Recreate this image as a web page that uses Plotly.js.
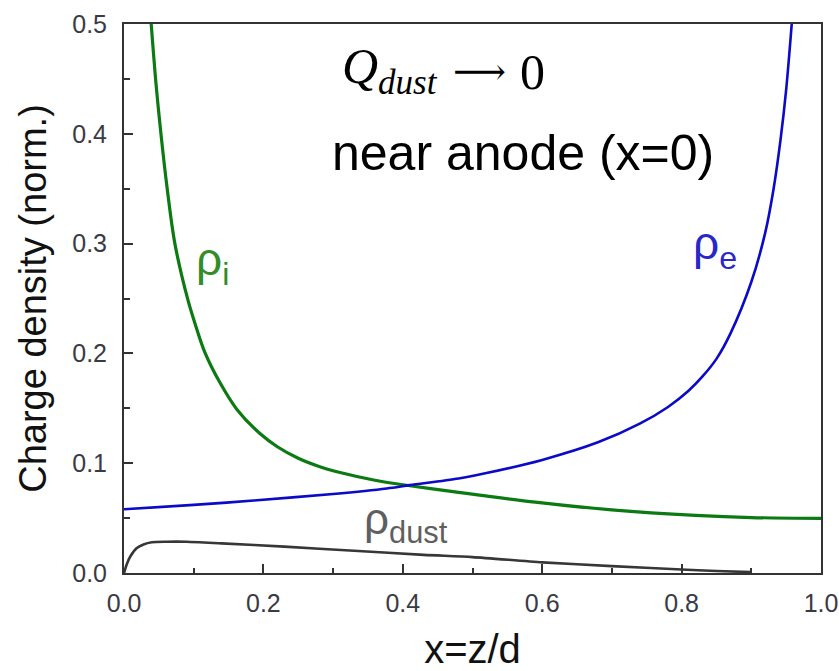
<!DOCTYPE html>
<html>
<head>
<meta charset="utf-8">
<script src="https://cdn.plot.ly/plotly-3.0.1.min.js"></script>
<style>
  html, body { margin: 0; padding: 0; background: #ffffff; }
  #chart { width: 839px; height: 671px; }
</style>
</head>
<body>
<div id="chart"></div>
<script>
// Normalised charge densities across the gap, x = z/d (anode at x = 0)
const ionX = [0.039, 0.046, 0.053, 0.062, 0.073, 0.092, 0.104, 0.116, 0.138, 0.162, 0.195, 0.22, 0.25, 0.28, 0.31, 0.36, 0.41, 0.48, 0.51, 0.59, 0.70, 0.82, 0.90, 1.0];
const ionY = [0.50, 0.445, 0.40, 0.35, 0.30, 0.248, 0.223, 0.201, 0.173, 0.149, 0.127, 0.115, 0.1045, 0.097, 0.0915, 0.0845, 0.0795, 0.0735, 0.071, 0.0645, 0.0575, 0.0525, 0.0505, 0.0498];

const elecX = [0, 0.1, 0.186, 0.3, 0.377, 0.41, 0.48, 0.52, 0.6, 0.68, 0.74, 0.78, 0.81, 0.83, 0.85, 0.87, 0.90, 0.92, 0.932, 0.942, 0.950, 0.958];
const elecY = [0.058, 0.062, 0.066, 0.072, 0.077, 0.080, 0.086, 0.091, 0.103, 0.119, 0.136, 0.151, 0.166, 0.179, 0.195, 0.218, 0.265, 0.310, 0.350, 0.395, 0.440, 0.5];

const dustX = [0, 0.004, 0.009, 0.018, 0.028, 0.04, 0.06, 0.09, 0.14, 0.23, 0.33, 0.43, 0.5, 0.6, 0.7, 0.8, 0.85, 0.9];
const dustY = [0, 0.008, 0.015, 0.0225, 0.026, 0.028, 0.0285, 0.0285, 0.027, 0.024, 0.0203, 0.0165, 0.0145, 0.0097, 0.0063, 0.0032, 0.0018, 0.0008];

const xTicks = [0.0, 0.2, 0.4, 0.6, 0.8, 1.0];
const yTicks = [0.0, 0.1, 0.2, 0.3, 0.4, 0.5];

const GREEN = 'rgb(12,122,18)';
const BLUE = 'rgb(10,10,200)';
const DARK = 'rgb(55,55,55)';

const traces = [
  { x: ionX, y: ionY, mode: 'lines', line: { color: GREEN, width: 3.2, shape: 'spline', smoothing: 0.9 }, hoverinfo: 'skip' },
  { x: elecX, y: elecY, mode: 'lines', line: { color: BLUE, width: 2.6, shape: 'spline', smoothing: 0.9 }, hoverinfo: 'skip' },
  { x: dustX, y: dustY, mode: 'lines', line: { color: DARK, width: 2.6, shape: 'spline', smoothing: 0.7 }, hoverinfo: 'skip' }
];

const SANS = '"Liberation Sans", Arial, sans-serif';
const SERIF = '"Liberation Serif", "Times New Roman", serif';

const axisCommon = {
  showgrid: false,
  zeroline: false,
  showline: true,
  linecolor: '#333',
  linewidth: 2,
  mirror: true,
  ticks: 'inside',
  ticklen: 9,
  tickwidth: 2,
  tickcolor: '#333',
  tickformat: '.1f',
  tickfont: { family: SANS, size: 25, color: '#3a3a44' }
};

const layout = {
  width: 839,
  height: 671,
  margin: { l: 124, r: 18, t: 24, b: 98 },
  paper_bgcolor: '#ffffff',
  plot_bgcolor: '#ffffff',
  showlegend: false,
  xaxis: Object.assign({}, axisCommon, {
    range: [0, 1],
    tickvals: xTicks,
    ticklabelstandoff: 7,
    minor: { dtick: 0.1, ticks: 'inside', ticklen: 5, tickwidth: 2, tickcolor: '#333' },
    title: { text: 'x=z/d', font: { family: SANS, size: 40, color: '#111' }, standoff: 20 }
  }),
  yaxis: Object.assign({}, axisCommon, {
    range: [0, 0.5],
    tickvals: yTicks,
    ticklabelstandoff: 10,
    minor: { dtick: 0.05, ticks: 'inside', ticklen: 6, tickwidth: 2, tickcolor: '#333' },
    title: { text: 'Charge density (norm.)', font: { family: SANS, size: 38, color: '#111' }, standoff: 14 }
  }),
  annotations: [
    // Q_dust -> 0, set in a serif face like an equation
    { xref: 'x', yref: 'y', x: 0.31, y: 0.4577, xanchor: 'left', yanchor: 'middle', showarrow: false,
      text: '<i>Q</i><sub><i>dust</i></sub>', font: { family: SERIF, size: 50, color: '#000' } },
    { xref: 'x', yref: 'y', x: 0.5095, y: 0.4563, xanchor: 'center', yanchor: 'middle', showarrow: false,
      text: '⟶', font: { family: '"DejaVu Serif", serif', size: 37, color: '#000' } },
    { xref: 'x', yref: 'y', x: 0.586, y: 0.4559, xanchor: 'center', yanchor: 'middle', showarrow: false,
      text: '0', font: { family: SERIF, size: 50, color: '#000' } },
    { xref: 'x', yref: 'y', x: 0.296, y: 0.3827, xanchor: 'left', yanchor: 'middle', showarrow: false,
      text: 'near anode (x=0)', font: { family: SANS, size: 50, color: '#000' } },
    // curve labels
    { xref: 'x', yref: 'y', x: 0.127, y: 0.283, xanchor: 'center', yanchor: 'middle', showarrow: false,
      text: 'ρ<sub>i</sub>', font: { family: SANS, size: 46, color: 'rgb(50,140,40)' } },
    { xref: 'x', yref: 'y', x: 0.848, y: 0.297, xanchor: 'center', yanchor: 'middle', showarrow: false,
      text: 'ρ<sub>e</sub>', font: { family: SANS, size: 46, color: 'rgb(40,40,200)' } },
    { xref: 'x', yref: 'y', x: 0.405, y: 0.046, xanchor: 'center', yanchor: 'middle', showarrow: false,
      text: 'ρ<sub>dust</sub>', font: { family: SANS, size: 44, color: 'rgb(95,95,95)' } }
  ]
};

Plotly.newPlot('chart', traces, layout, { staticPlot: true, displayModeBar: false });
</script>
</body>
</html>
